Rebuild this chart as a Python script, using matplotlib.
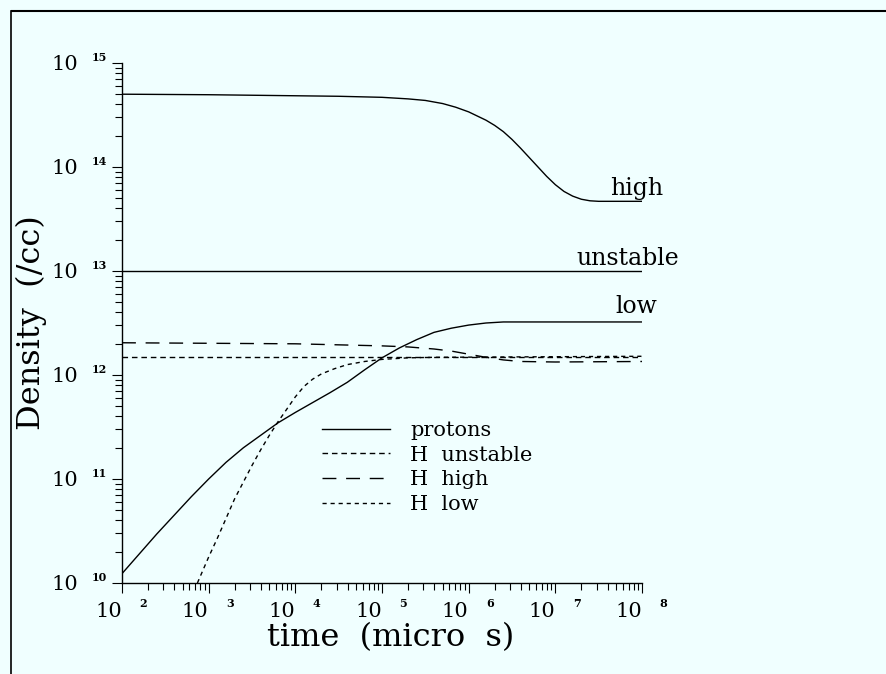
import matplotlib
matplotlib.use("Agg")
import matplotlib.pyplot as plt
from matplotlib.lines import Line2D
from matplotlib.ticker import LogLocator, FuncFormatter, NullFormatter

plt.rcParams['font.family'] = ['DejaVu Serif']
plt.rcParams['lines.scale_dashes'] = False

# log10 of time (micro s) and log10 of density (/cc)
t_high = [2.0, 3.0, 4.0, 4.5, 5.0, 5.3, 5.5, 5.7, 5.85, 6.0, 6.1, 6.2, 6.3, 6.4,
          6.5, 6.6, 6.7, 6.8, 6.9, 7.0, 7.1, 7.2, 7.3, 7.4, 7.5, 8.0]
n_high = [14.70, 14.695, 14.685, 14.68, 14.67, 14.655, 14.64, 14.61, 14.575, 14.53,
          14.49, 14.45, 14.40, 14.34, 14.265, 14.18, 14.09, 14.00, 13.91, 13.83,
          13.765, 13.72, 13.69, 13.675, 13.67, 13.67]

t_unst = [2.0, 8.0]
n_unst = [13.0, 13.0]

t_low = [2.0, 2.2, 2.4, 2.6, 2.8, 3.0, 3.2, 3.4, 3.6, 3.8, 4.0, 4.2, 4.4, 4.6,
         4.8, 5.0, 5.2, 5.4, 5.6, 5.8, 6.0, 6.2, 6.4, 8.0]
n_low = [10.09, 10.28, 10.47, 10.65, 10.83, 11.0, 11.16, 11.30, 11.42, 11.54,
         11.64, 11.735, 11.83, 11.93, 12.05, 12.165, 12.26, 12.34, 12.41, 12.45,
         12.48, 12.50, 12.51, 12.51]

t_h_unst = [2.0, 8.0]
n_h_unst = [12.176, 12.176]

t_h_high = [2.0, 4.0, 4.5, 5.0, 5.3, 5.6, 5.8, 6.0, 6.2, 6.4, 6.6, 7.0, 8.0]
n_h_high = [12.31, 12.30, 12.29, 12.28, 12.27, 12.25, 12.23, 12.20, 12.17, 12.145,
            12.13, 12.125, 12.13]

t_h_low = [2.87, 3.0, 3.1, 3.2, 3.3, 3.4, 3.5, 3.6, 3.7, 3.8, 3.9, 4.0, 4.1, 4.2,
           4.3, 4.45, 4.6, 4.8, 5.0, 5.3, 5.6, 8.0]
n_h_low = [10.0, 10.25, 10.43, 10.62, 10.81, 10.97, 11.13, 11.28, 11.42, 11.55,
           11.67, 11.79, 11.89, 11.96, 12.01, 12.06, 12.10, 12.13, 12.15, 12.165,
           12.17, 12.18]

legend_labels = ['protons', 'H  unstable', 'H  high', 'H  low']
curve_labels = ['high', 'unstable', 'low']

def pw(v):
    return [10 ** x for x in v]

bg = '#F0FFFF'
fig = plt.figure(figsize=(8.87, 6.74), dpi=100, facecolor=bg)
ax = fig.add_axes([122 / 887, 1 - 583 / 674, 520 / 887, 520 / 674])
ax.set_facecolor(bg)

lw = 1.0
ax.plot(pw(t_high), pw(n_high), color='black', lw=lw, label=legend_labels[0])
ax.plot(pw(t_unst), pw(n_unst), color='black', lw=lw)
ax.plot(pw(t_low), pw(n_low), color='black', lw=lw)
ax.plot(pw(t_h_unst), pw(n_h_unst), color='black', lw=lw, dashes=(4, 2.8),
        label=legend_labels[1])
ax.plot(pw(t_h_high), pw(n_h_high), color='black', lw=lw, dashes=(10, 7),
        label=legend_labels[2])
ax.plot(pw(t_h_low), pw(n_h_low), color='black', lw=lw, dashes=(3, 2.8),
        label=legend_labels[3])

ax.set_xscale('log')
ax.set_yscale('log')
ax.set_xlim(1e2, 1e8)
ax.set_ylim(1e10, 1e15)

for s in ['top', 'right']:
    ax.spines[s].set_visible(False)
for s in ['left', 'bottom']:
    ax.spines[s].set_linewidth(1.0)

ax.xaxis.set_major_locator(LogLocator(base=10, numticks=10))
ax.yaxis.set_major_locator(LogLocator(base=10, numticks=10))
ax.xaxis.set_minor_locator(LogLocator(base=10, subs=range(2, 10), numticks=100))
ax.yaxis.set_minor_locator(LogLocator(base=10, subs=range(2, 10), numticks=100))
ax.xaxis.set_minor_formatter(NullFormatter())
ax.yaxis.set_minor_formatter(NullFormatter())
ax.xaxis.set_major_formatter(FuncFormatter(lambda v, p: '10'))
ax.yaxis.set_major_formatter(FuncFormatter(lambda v, p: '10'))
ax.tick_params(which='major', direction='out', length=7.5, width=0.8, labelsize=15)
ax.tick_params(which='minor', direction='out', length=5, width=0.8)
ax.tick_params(axis='x', which='major', pad=6)
ax.tick_params(axis='y', which='major', pad=24)
for lab in ax.get_xticklabels():
    lab.set_horizontalalignment('right')

# small exponents next to each "10"
for e in range(2, 9):
    ax.annotate(str(e), xy=(10 ** e, 0), xycoords=('data', 'axes fraction'),
                xytext=(12.5, -10.5), textcoords='offset points',
                ha='left', va='top', fontsize=8, fontweight='bold')
for e in range(10, 16):
    ax.annotate(str(e), xy=(0, 10 ** e), xycoords=('axes fraction', 'data'),
                xytext=(-21.5, 4.2), textcoords='offset points',
                ha='left', va='center', fontsize=8, fontweight='bold')

ax.set_xlabel('time  (micro  s)', fontsize=23)
ax.xaxis.set_label_coords(0.517, -0.075)
ax.set_ylabel('Density  (/cc)', fontsize=23)
ax.yaxis.set_label_coords(-0.145, 0.5)

# curve names at the right end
ax.text(10 ** 7.63, 10 ** 13.73, curve_labels[0], fontsize=17, ha='left', va='baseline')
ax.text(10 ** 7.24, 10 ** 13.06, curve_labels[1], fontsize=17, ha='left', va='baseline')
ax.text(10 ** 7.69, 10 ** 12.60, curve_labels[2], fontsize=17, ha='left', va='baseline')

ax.legend(loc='upper left', bbox_to_anchor=(322 / 887, 1 - 421 / 674),
          bbox_transform=fig.transFigure, frameon=False, fontsize=15,
          handlelength=3.27, handletextpad=0.96, labelspacing=0.27, borderpad=0,
          borderaxespad=0)

# frame drawn round the figure (top and left edges only)
fig.add_artist(Line2D([12 / 887, 1], [1 - 11 / 674, 1 - 11 / 674],
                      transform=fig.transFigure, color='black', lw=1.5))
fig.add_artist(Line2D([11 / 887, 11 / 887], [0, 1 - 11 / 674],
                      transform=fig.transFigure, color='black', lw=1.2))

fig.savefig('out.png', dpi=100, facecolor=bg)
